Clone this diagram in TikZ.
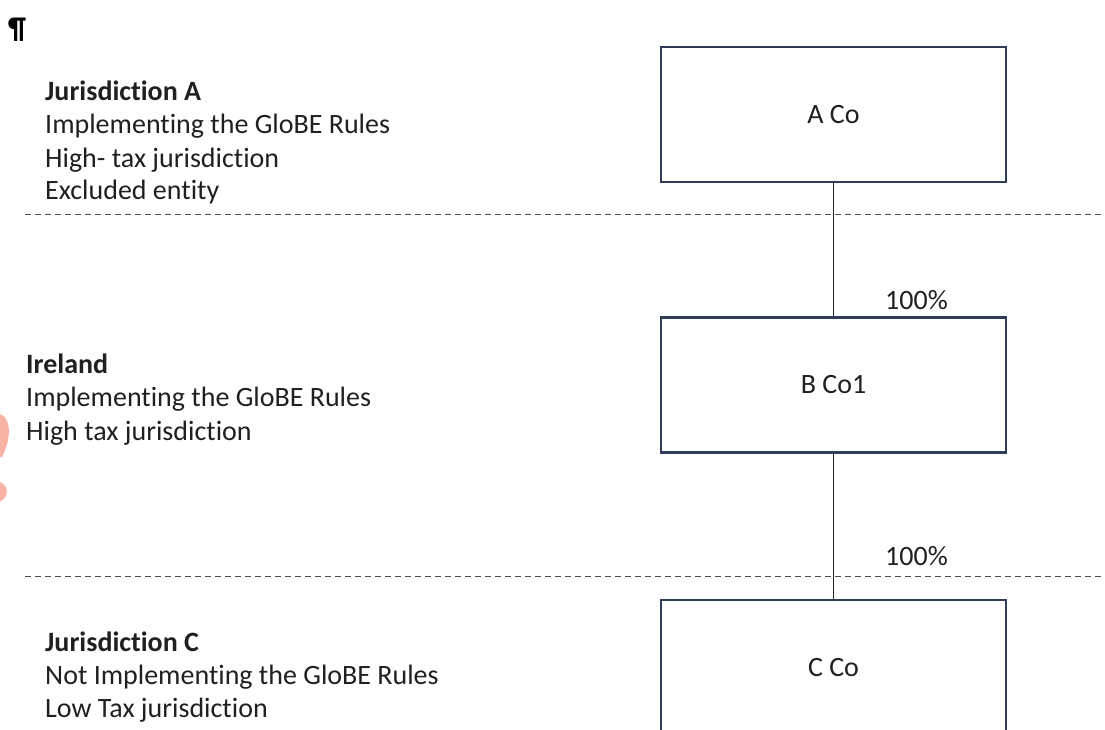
\documentclass[tikz,border=0pt]{standalone}
\usepackage{fontspec}
\setmainfont{Carlito}[Ligatures={NoCommon}]
\begin{document}
\begin{tikzpicture}[x=1pt,y=-1pt,
  txt/.style={anchor=base west,inner sep=0pt,font=\fontsize{28}{33}\selectfont,text=textgray},
  hd/.style={txt,font=\fontsize{28}{33}\selectfont\bfseries},
  cobox/.style={draw=boxnavy,line width=2.8pt,minimum width=345pt,minimum height=135pt,inner sep=0pt,font=\fontsize{28}{32}\selectfont,text=textgray},
  link/.style={draw=black!85,line width=1.4pt},
  border/.style={draw=black!70,line width=1pt,dash pattern=on 6pt off 4pt}]
\definecolor{boxnavy}{HTML}{2F3D5A}
\definecolor{textgray}{HTML}{202020}
\definecolor{blob}{HTML}{F58A74}
\useasboundingbox (0,0) rectangle (1105,729);
\begin{scope}
\clip (0,0) rectangle (1105,729);
% left-edge marks
\fill[blob,opacity=0.65] (0,414) .. controls (12,418) and (11,440) .. (2,457) -- (0,457) -- cycle;
\fill[blob,opacity=0.65] (0,482) .. controls (9,486) and (9,496) .. (1,501) -- (0,501) -- cycle;
% pilcrow
\node[txt,text=black,font=\fontsize{30}{33}\selectfont\bfseries] (pil) at (8,38) {¶};
% jurisdiction borders
\coordinate (d1l) at (25,214); \coordinate (d1r) at (1105,214);
\coordinate (d2l) at (25,576); \coordinate (d2r) at (1105,576);
\draw[border] (d1l) -- (d1r);
\draw[border] (d2l) -- (d2r);
% Jurisdiction A
\node[hd]  (ja0) at (45,100.5) {Jurisdiction A};
\node[txt] (ja1) at (45,133.5) {Implementing the GloBE Rules};
\node[txt] (ja2) at (45,167) {High- tax jurisdiction};
\node[txt] (ja3) at (45,199.5) {Excluded entity};
% Ireland
\node[hd]  (ie0) at (26,373.5) {Ireland};
\node[txt] (ie1) at (26,406.5) {Implementing the GloBE Rules};
\node[txt] (ie2) at (26,440.5) {High tax jurisdiction};
% Jurisdiction C
\node[hd]  (jc0) at (45,651.5) {Jurisdiction C};
\node[txt] (jc1) at (45,684.5) {Not Implementing the GloBE Rules};
\node[txt] (jc2) at (45,717.5) {Low Tax jurisdiction};
% entities
\node[cobox] (A) at (833.5,114.5) {A Co};
\node[cobox] (B) at (833.5,385) {B Co1};
\node[cobox] (C) at (833.5,667.5) {C Co};
\draw[link] (A.south) -- (B.north);
\draw[link] (B.south) -- (C.north);
\node[txt] (pAB) at (885,309) {100\%};
\node[txt] (pBC) at (885,565) {100\%};
\end{scope}
\end{tikzpicture}
\end{document}
